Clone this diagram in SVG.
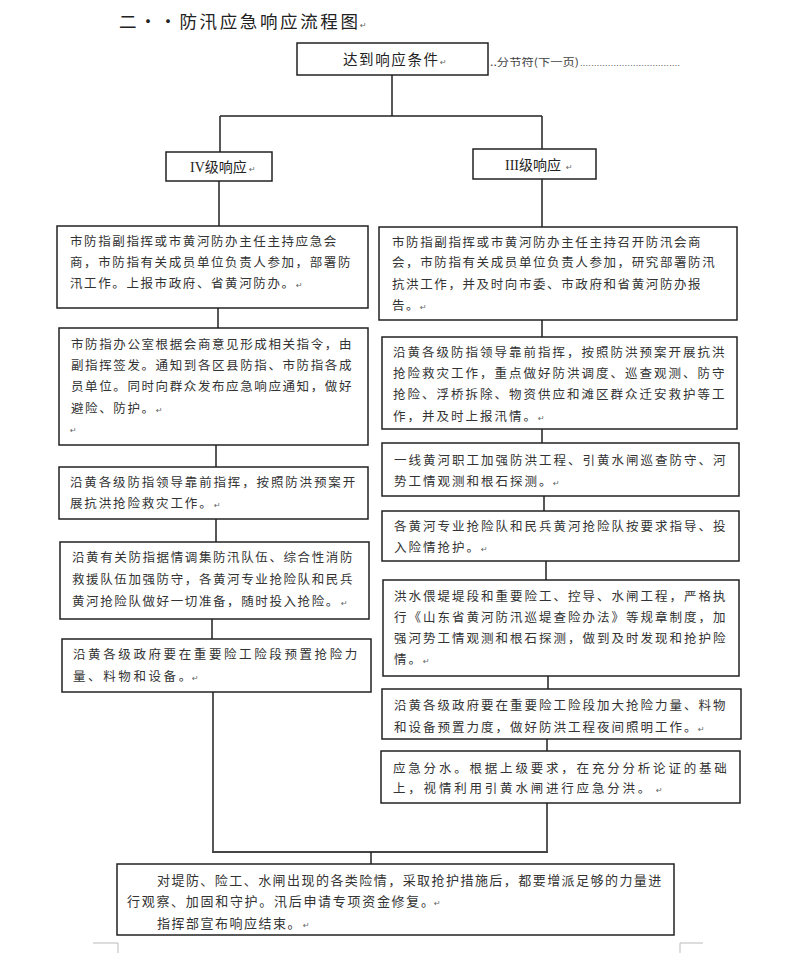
<svg xmlns="http://www.w3.org/2000/svg" width="800" height="953" viewBox="0 0 800 953">
<style>
.box{fill:#fff;stroke:#222;stroke-width:1.5}
.ln{stroke:#222;stroke-width:1.5;fill:none}
.t{font-family:"Noto Sans CJK SC",sans-serif;font-size:12.5px;fill:#333;letter-spacing:1.6px}
.r{letter-spacing:2px}
.w{letter-spacing:2.6px}
.b{font-size:13px;letter-spacing:1.45px}
.pm{font-family:"DejaVu Sans",sans-serif;font-size:8px;fill:#666}
.h{font-family:"Liberation Serif","Noto Sans CJK SC",serif;font-size:14px;fill:#222}
</style>
<rect width="800" height="953" fill="#fff"/>
<g id="title">
<text x="119" y="28" font-family="Noto Sans CJK SC,sans-serif" font-size="17.5" fill="#222" textLength="239" lengthAdjust="spacing">二··防汛应急响应流程图</text>
<text x="360" y="28" class="pm">↵</text>
</g>
<g id="connectors">
<path class="ln" d="M392 75V116M220 116H542M220 116V152M542 116V149M219 181V226M542 179V227"/>
<path class="ln" d="M218 308V328M216 445V467M216 519V542M212 619V639M213 692V852"/>
<path class="ln" d="M542 320V337M542 429V443M544 496V511M546 561V580M548 676V689M547 739V751M547 803V852"/>
<path d="M212 852H548" stroke="#444" stroke-width="2.2" fill="none"/>
<path class="ln" d="M371 852V864"/>
</g>
<g id="n_start">
<rect class="box" x="297" y="43" width="191" height="32"/>
<text x="343" y="65" font-family="Noto Sans CJK SC,sans-serif" font-size="14.5" fill="#222" letter-spacing="1.6">达到响应条件</text>
<text x="440" y="65" class="pm">↵</text>
</g>
<g id="sectionbreak">
<text x="490" y="66" font-family="Noto Sans CJK SC,sans-serif" font-size="10.5" fill="#444" textLength="89" lengthAdjust="spacingAndGlyphs">..分节符(下一页)</text>
<text x="580" y="66" font-family="Liberation Sans,sans-serif" font-size="9" fill="#555" textLength="100" lengthAdjust="spacing">....................................</text>
</g>
<g id="n_iv">
<rect class="box" x="166" y="152" width="106" height="29"/>
<text x="190" y="172" class="h">IV级响应</text>
<text x="249" y="172" class="pm">↵</text>
</g>
<g id="n_iii">
<rect class="box" x="473" y="149" width="123" height="30"/>
<text x="505" y="170" class="h">III级响应</text>
<text x="566" y="170" class="pm">↵</text>
</g>
<g id="l1">
<rect class="box" x="57" y="226" width="311" height="82"/>
<text class="t" x="70" y="246">市防指副指挥或市黄河防办主任主持应急会</text>
<text class="t" x="70" y="267">商，市防指有关成员单位负责人参加，部署防</text>
<text class="t" x="70" y="288">汛工作。上报市政府、省黄河防办。</text>
<text class="pm" x="296" y="288">↵</text>
</g>
<g id="l2">
<rect class="box" x="59" y="328" width="309" height="117"/>
<text class="t" x="71" y="349">市防指办公室根据会商意见形成相关指令，由</text>
<text class="t" x="71" y="370">副指挥签发。通知到各区县防指、市防指各成</text>
<text class="t" x="71" y="391">员单位。同时向群众发布应急响应通知，做好</text>
<text class="t" x="71" y="413">避险、防护。</text>
<text class="pm" x="156" y="413">↵</text>
<text class="pm" x="70" y="433">↵</text>
</g>
<g id="l3">
<rect class="box" x="59" y="467" width="309" height="52"/>
<text class="t" x="70" y="487" style="letter-spacing:1.85px">沿黄各级防指领导靠前指挥，按照防洪预案开</text>
<text class="t" x="70" y="508" style="letter-spacing:1.85px">展抗洪抢险救灾工作。</text>
<text class="pm" x="214" y="508">↵</text>
</g>
<g id="l4">
<rect class="box" x="60" y="542" width="309" height="77"/>
<text class="t" x="72" y="562">沿黄有关防指据情调集防汛队伍、综合性消防</text>
<text class="t" x="72" y="584">救援队伍加强防守，各黄河专业抢险队和民兵</text>
<text class="t" x="72" y="606">黄河抢险队做好一切准备，随时投入抢险。</text>
<text class="pm" x="341" y="606">↵</text>
</g>
<g id="l5">
<rect class="box" x="62" y="639" width="309" height="53"/>
<text class="t w" x="73" y="659">沿黄各级政府要在重要险工险段预置抢险力</text>
<text class="t w" x="73" y="681">量、料物和设备。</text>
<text class="pm" x="192" y="681">↵</text>
</g>
<g id="r1">
<rect class="box" x="379" y="227" width="358" height="93"/>
<text class="t" x="392" y="247">市防指副指挥或市黄河防办主任主持召开防汛会商</text>
<text class="t" x="392" y="267">会，市防指有关成员单位负责人参加，研究部署防汛</text>
<text class="t" x="392" y="289">抗洪工作，并及时向市委、市政府和省黄河防办报</text>
<text class="t" x="392" y="310">告。</text>
<text class="pm" x="420" y="310">↵</text>
</g>
<g id="r2">
<rect class="box" x="382" y="337" width="355" height="92"/>
<text class="t r" x="393" y="357">沿黄各级防指领导靠前指挥，按照防洪预案开展抗洪</text>
<text class="t r" x="393" y="378">抢险救灾工作，重点做好防洪调度、巡查观测、防守</text>
<text class="t r" x="393" y="399">抢险、浮桥拆除、物资供应和滩区群众迁安救护等工</text>
<text class="t r" x="393" y="421">作，并及时上报汛情。</text>
<text class="pm" x="538" y="421">↵</text>
</g>
<g id="r3">
<rect class="box" x="382" y="443" width="357" height="53"/>
<text class="t r" x="394" y="465">一线黄河职工加强防洪工程、引黄水闸巡查防守、河</text>
<text class="t r" x="394" y="486">势工情观测和根石探测。</text>
<text class="pm" x="553" y="486">↵</text>
</g>
<g id="r4">
<rect class="box" x="382" y="511" width="357" height="50"/>
<text class="t r" x="394" y="531">各黄河专业抢险队和民兵黄河抢险队按要求指导、投</text>
<text class="t r" x="394" y="552">入险情抢护。</text>
<text class="pm" x="481" y="552">↵</text>
</g>
<g id="r5">
<rect class="box" x="383" y="580" width="356" height="96"/>
<text class="t r" x="394" y="601">洪水偎堤堤段和重要险工、控导、水闸工程，严格执</text>
<text class="t r" x="394" y="622">行《山东省黄河防汛巡堤查险办法》等规章制度，加</text>
<text class="t r" x="394" y="643">强河势工情观测和根石探测，做到及时发现和抢护险</text>
<text class="t r" x="394" y="664">情。</text>
<text class="pm" x="423" y="664">↵</text>
</g>
<g id="r6">
<rect class="box" x="382" y="689" width="359" height="50"/>
<text class="t r" x="394" y="710">沿黄各级政府要在重要险工险段加大抢险力量、料物</text>
<text class="t r" x="394" y="732">和设备预置力度，做好防洪工程夜间照明工作。</text>
<text class="pm" x="698" y="732">↵</text>
</g>
<g id="r7">
<rect class="box" x="381" y="751" width="359" height="52"/>
<text class="t" x="393" y="773" style="letter-spacing:2.8px">应急分水。根据上级要求，在充分分析论证的基础</text>
<text class="t" x="393" y="793" style="letter-spacing:2.8px">上，视情利用引黄水闸进行应急分洪。</text>
<text class="pm" x="656" y="793">↵</text>
</g>
<g id="end">
<rect class="box" x="117" y="864" width="557" height="71"/>
<text class="t b" x="157" y="885">对堤防、险工、水闸出现的各类险情，采取抢护措施后，都要增派足够的力量进</text>
<text class="t b" x="127" y="906" style="letter-spacing:1.7px">行观察、加固和守护。汛后申请专项资金修复。</text>
<text class="pm" x="434" y="906">↵</text>
<text class="t b" x="157" y="928" style="letter-spacing:1.5px">指挥部宣布响应结束。</text>
<text class="pm" x="303" y="928">↵</text>
</g>
<g id="pagemarks">
<path d="M93 943H118V953M703 943H680V953" stroke="#bbb" stroke-width="1" fill="none"/>
</g>
</svg>
